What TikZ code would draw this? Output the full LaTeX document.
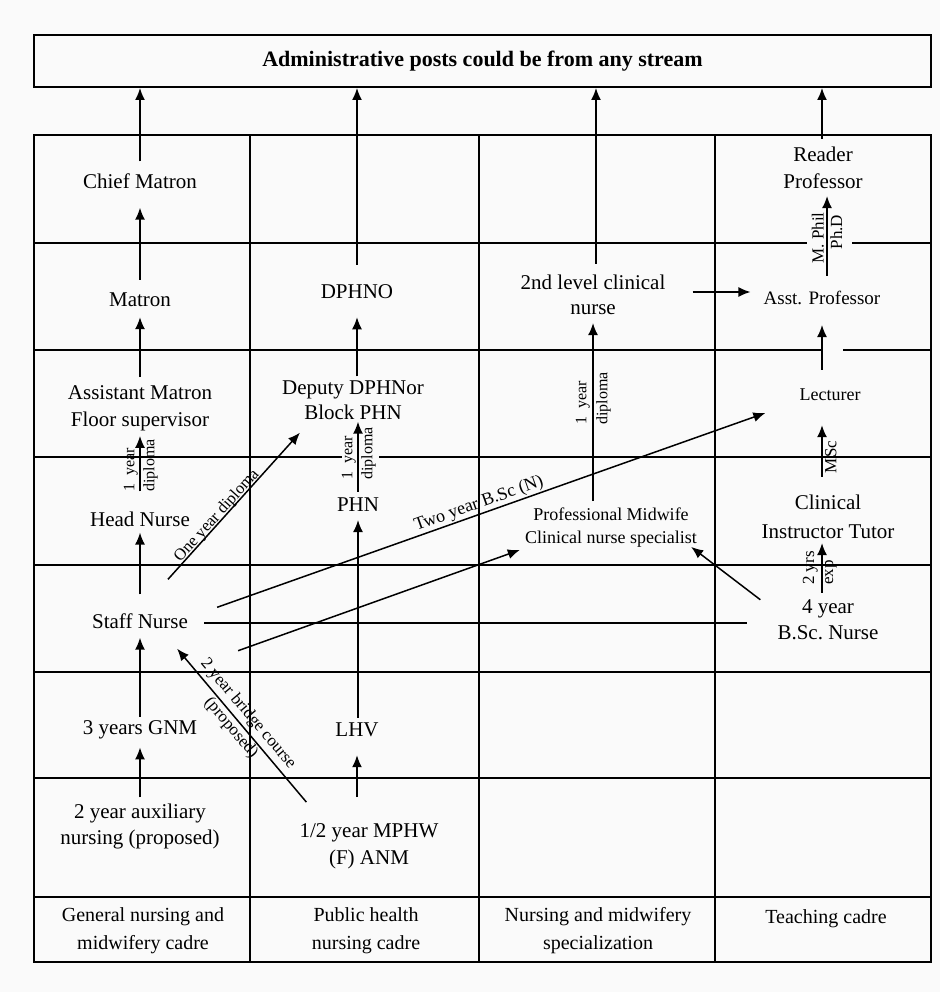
\documentclass[tikz,border=0pt]{standalone}
\usepackage{fontspec}
\setmainfont{Liberation Serif}
\usetikzlibrary{arrows.meta,calc}
\definecolor{bg}{RGB}{250,250,250}
\begin{document}
\begin{tikzpicture}[x=1pt,y=-1pt,
  gridline/.style={line width=1.8pt},
  arr/.style={line width=1.5pt,-{Latex[length=12pt,width=10pt]}},
  plainline/.style={line width=1.5pt},
  lbl/.style={font=\fontsize{21}{27}\selectfont, align=center, inner sep=0pt},
  slbl/.style={font=\fontsize{18}{23}\selectfont, align=center, inner sep=0pt},
  vlbl/.style={font=\fontsize{16}{18}\selectfont, inner sep=0pt, rotate=90},
  dlbl/.style={font=\fontsize{17}{20}\selectfont, inner sep=0pt},
  cadre/.style={font=\fontsize{20}{28}\selectfont, align=center, inner sep=0pt}]
\useasboundingbox[fill=bg] (0,0) rectangle (940,992);

% grid
\draw[gridline] (34,135) rectangle (931,962);
\foreach \x in {250,479,715} \draw[gridline] (\x,135) -- (\x,962);
\draw[gridline] (34,243) -- (807,243) (852,243) -- (931,243);
\draw[gridline] (34,350) -- (822,350) (843,350) -- (931,350);
\draw[gridline] (34,457) -- (342,457) (379,457) -- (931,457);
\foreach \y in {565,672,778,897} \draw[gridline] (34,\y) -- (931,\y);

% top box
\node[draw, line width=2pt, minimum width=897pt, minimum height=52pt, inner sep=0pt,
      font=\bfseries\fontsize{22}{26}\selectfont] (adm) at (482.5,61) {Administrative posts could be from any stream};

% column 1
\node[lbl] (chief) at (140,181) {Chief Matron};
\node[lbl] (matron) at (140,300) {Matron};
\node[lbl] (asstm) at (140,408) {Assistant Matron\\Floor supervisor};
\node[lbl] (head) at (140,519) {Head Nurse};
\node[lbl] (staff) at (140,621) {Staff Nurse};
\node[lbl] (gnm) at (140,730) {3 years GNM};
\node[lbl, font=\fontsize{21}{26}\selectfont] (aux) at (140,826) {2 year auxiliary\\nursing (proposed)};

% column 2
\node[lbl] (dphno) at (357,292) {DPHNO};
\node[lbl, font=\fontsize{21}{25}\selectfont] (dep) at (353,400) {Deputy DPHNor\\Block PHN};
\node[lbl] (phn) at (358,505) {PHN};
\node[lbl] (lhv) at (357,730) {LHV};
\node[lbl] (mphw) at (369,846) {1/2 year MPHW\\(F) ANM};

% column 3
\node[lbl, font=\fontsize{21}{25}\selectfont] (lvl2) at (593,295) {2nd level clinical\\nurse};
\node[slbl] (pm) at (611,528) {Professional Midwife\\Clinical nurse specialist};

% column 4
\node[lbl] (reader) at (823,168) {Reader\\Professor};
\node[lbl, font=\fontsize{19}{23}\selectfont] (asst) at (822,298) {Asst. Professor};
\node[slbl] (lect) at (830,395) {Lecturer};
\node[lbl, font=\fontsize{21}{29}\selectfont] (clin) at (828,517) {Clinical\\Instructor Tutor};
\node[lbl, font=\fontsize{21}{26}\selectfont] (bsc) at (828,620) {4 year\\B.Sc.\ Nurse};

% cadre row
\node[cadre] (cad1) at (143,931) {General nursing and\\midwifery cadre};
\node[cadre] (cad2) at (366,931) {Public health\\nursing cadre};
\node[cadre] (cad3) at (598,931) {Nursing and midwifery\\specialization};
\node[cadre] (cad4) at (826,919) {Teaching cadre};

% vertical labels
\node[vlbl, anchor=south west] (d1a) at (138,492) {1\hspace{0.5em}year};
\node[vlbl, anchor=north west] (d1b) at (143,492) {diploma};
\node[vlbl, anchor=south west] (d2a) at (356,480) {1\hspace{0.5em}year};
\node[vlbl, anchor=north west] (d2b) at (361,480) {diploma};
\node[vlbl, anchor=south west] (d3a) at (590,425) {1\hspace{0.5em}year};
\node[vlbl, anchor=north west] (d3b) at (596,425) {diploma};
\node[vlbl, font=\fontsize{17}{19}\selectfont, anchor=south] (mp) at (824,238) {M. Phil};
\node[vlbl, font=\fontsize{17}{19}\selectfont, anchor=north] (phd) at (830,232) {Ph.D};
\node[vlbl, font=\fontsize{17}{19}\selectfont, anchor=north] (msc) at (825,457) {MSc};
\node[vlbl, font=\fontsize{17}{19}\selectfont, anchor=south west] (yrs) at (818,585) {2 yrs};
\node[vlbl, font=\fontsize{17}{19}\selectfont, anchor=north west] (expl) at (825,585) {exp};

% diagonal labels
\node[dlbl, font=\fontsize{16.5}{19}\selectfont, rotate=48.1] (l1) at (217,516) {One year diploma};
\node[dlbl, font=\fontsize{18}{20}\selectfont, rotate=19.6] (l2) at (479,504) {Two year B.Sc (N)};
\node[dlbl, rotate=-49.8] (l3) at (248,714) {2 year bridge course};
\node[dlbl, rotate=-49.8] (l4) at (231,728) {(proposed)};

% connectors column 1
\draw[arr] ($(chief.north)+(0,-12)$) -- (chief.north |- adm.south);
\draw[arr] ($(matron.north)+(0,-13)$) -- ($(chief.south)+(0,19)$);
\draw[arr] ($(asstm.north)+(0,-8)$) -- ($(matron.south)+(0,10)$);
\draw[arr] ($(head.north)+(0,-20)$) -- ($(asstm.south)+(0,5)$);
\draw[arr] ($(staff.north)+(0,-19)$) -- ($(head.south)+(0,6)$);
\draw[arr] ($(gnm.north)+(0,-4)$) -- ($(staff.south)+(0,9)$);
\draw[arr] ($(aux.north)+(0,-6)$) -- ($(gnm.south)+(0,8)$);

% connectors column 2
\draw[arr] ($(dphno.north)+(0,-20)$) -- (dphno.north |- adm.south);
\draw[arr] ($(dep.north)+(4,-4)$) -- ($(dphno.south)+(0,18)$);
\draw[arr] ($(phn.north)+(0,-6)$) -- ($(dep.south)+(5,2)$);
\draw[arr] ($(lhv.north)+(1,-5)$) -- ($(phn.south)+(0,8)$);
\draw[arr] ($(mphw.north)+(-12,-26)$) -- ($(lhv.south)+(0,18)$);

% connectors column 3
\draw[arr] ($(lvl2.north)+(3,-11)$) -- ($(lvl2.north |- adm.south)+(3,0)$);
\draw[arr] ($(pm.north -| lvl2.south)+(0,-7)$) -- ($(lvl2.south)+(0,8)$);
\draw[arr] ($(lvl2.east |- asst.west)+(27,-6)$) -- ($(asst.west)+(-13,-6)$);

% connectors column 4
\draw[arr] ($(reader.north)+(-1,-8)$) -- ($(reader.north |- adm.south)+(-1,0)$);
\draw[arr] ($(asst.north)+(5,-15)$) -- ($(reader.south)+(4,7)$);
\draw[arr] ($(lect.north)+(-8,-19)$) -- ($(asst.south)+(0,20)$);
\draw[arr] ($(clin.north)+(-6,-18)$) -- ($(lect.south)+(-8,24)$);
\draw[arr] ($(bsc.north)+(-6,-7)$) -- ($(clin.south)+(-6,4)$);

% cross connectors
\draw[arr] ($(staff.north)+(28,-34)$) -- ($(dep.south west)+(18,13)$);
\draw[arr] ($(staff.north east)+(29,-6)$) -- ($(lect.west)+(-34,18)$);
\draw[plainline] ($(staff.east)+(16,2)$) -- ($(bsc.west)+(-30,3)$);
\draw[arr] ($(staff.south east)+(50,22)$) -- ($(pm.south west)+(-5,2)$);
\draw[arr] ($(bsc.north west)+(-17,0)$) -- ($(pm.south east)+(-6,-1)$);
\draw[arr] ($(mphw.north west)+(7,-21)$) -- ($(staff.south east)+(-11,20)$);
\end{tikzpicture}
\end{document}
